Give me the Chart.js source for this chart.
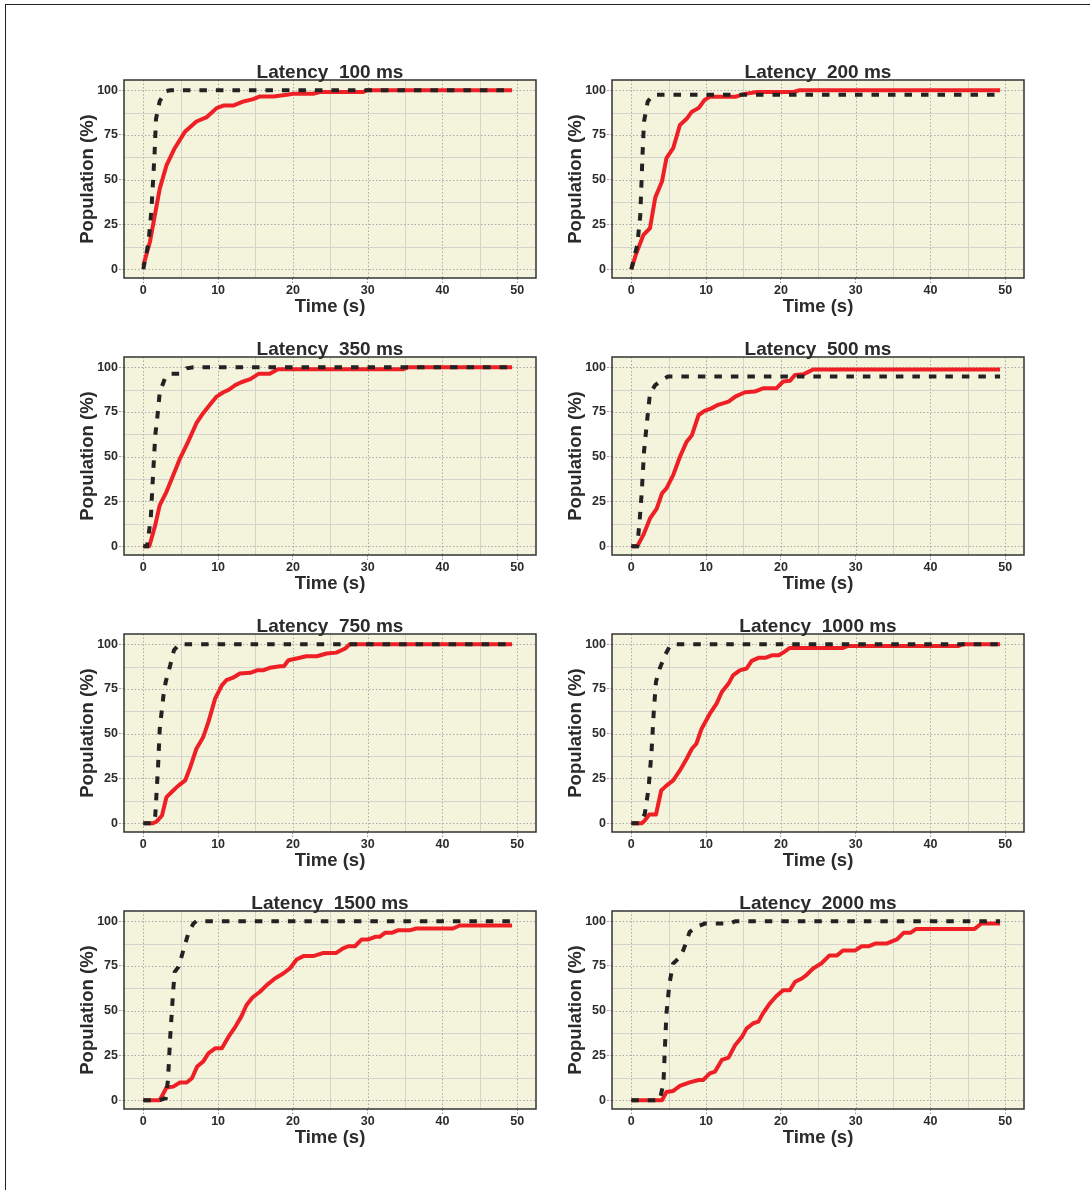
<!DOCTYPE html>
<html><head><meta charset="utf-8">
<script src="https://cdn.jsdelivr.net/npm/chart.js@4/dist/chart.umd.min.js"></script>
<style>
html,body{margin:0;padding:0;background:#fff;}
body{width:1090px;height:1190px;position:relative;overflow:hidden;}
#frame{position:absolute;left:5px;top:4px;width:1200px;height:1300px;border-top:1px solid #222;border-left:1px solid #222;}
canvas{position:absolute;}
</style></head><body><div id="frame"></div>
<script>
// ---- data ----
const latencies = [100, 200, 350, 500, 750, 1000, 1500, 2000];
const xTickValues = [0, 10, 20, 30, 40, 50];
const yTickValues = [0, 25, 50, 75, 100];
const xMinorValues = [5, 15, 25, 35, 45];
const yMinorValues = [12.5, 37.5, 62.5, 87.5];

const red100 = [[0,2],[0.9,15.5],[2.2,45],[3.1,58],[4.2,67.6],[5.6,77],[7.1,82.5],[8.5,85],[9.8,90],[10.7,91.4],[12,91.4],[13.4,93.7],[14.7,95],[15.6,96.5],[17.4,96.5],[19.2,97.4],[20,98],[22.7,98],[23.6,99],[29.4,99],[29.9,100],[49.3,100]];
const black100 = [[0,0],[0.7,15],[1.1,34],[1.5,64],[1.7,84],[2.2,94],[3.1,99.6],[3.6,100],[49.3,100]];

const red200 = [[0,0],[0.6,8],[1.6,19],[2.5,23],[3.2,40],[4.1,49],[4.7,62],[5.6,67.6],[6.5,80.6],[7.4,84],[8.1,88],[9,90],[9.8,94.6],[10.5,96.3],[13.9,96.3],[15,97.8],[16.8,99],[21.7,99],[22.5,100],[49.3,100]];
const black200 = [[0,0],[0.8,13.6],[1.2,30],[1.5,64],[1.7,82.5],[2.2,93.7],[2.9,97.4],[49.3,97.4]];

const red350 = [[0,0],[0.8,0],[1.6,11.8],[2.2,23],[3.1,30.4],[4,39.7],[4.9,49],[6,58.4],[7.1,68.7],[8,74.3],[8.9,79],[9.8,83.6],[10.7,86],[11.4,87.3],[12.3,90],[13.1,91.6],[14.3,93.3],[15.4,96.3],[16.9,96.3],[18,98.9],[34.8,98.9],[35.4,100],[49.3,100]];
const black350 = [[0,0],[0.5,0],[1,15.5],[1.3,39.7],[1.6,62],[1.9,73],[2.2,86],[2.9,93.8],[3.6,96.3],[4.9,96.3],[5.8,99.4],[6.7,100],[49.3,100]];

const red500 = [[0,0],[0.8,0],[1.6,6.2],[2.5,15.5],[3.4,21],[4.1,29.5],[4.7,32.3],[5.6,39.7],[6.5,50],[7.4,58.4],[8.1,62],[9,73.3],[9.8,75.6],[10.7,77],[11.6,79],[13,80.8],[13.9,83.6],[15.2,86],[16.5,86.4],[17.6,88.2],[19.4,88.2],[20.3,92],[21.2,92.4],[21.9,95.7],[23,96],[24.3,98.7],[49.3,98.7]];
const black500 = [[0,0],[0.8,0],[1.1,13.6],[1.4,30.4],[1.7,52.8],[2.1,69.6],[2.5,85.4],[3.2,90],[4.1,92.9],[4.9,94.8],[49.3,94.8]];

const red750 = [[0,0],[1.3,0],[1.8,1],[2.5,4.3],[3.1,14.6],[4,18.3],[4.7,21],[5.6,23.9],[6.2,30.4],[7.1,41.6],[8,48],[8.7,56.5],[9.6,69.6],[10.5,77],[11.1,79.9],[12,81.3],[12.9,83.6],[14.3,84],[15.2,85.4],[16,85.4],[16.9,86.8],[18.3,87.7],[18.8,87.7],[19.4,91],[20.5,92],[21.8,93.3],[23.2,93.3],[24.5,94.8],[25.8,95.3],[27,97.6],[27.6,100],[49.3,100]];
const black750 = [[0,0],[1.3,0],[1.6,4.3],[2,34],[2.2,52.8],[2.7,71.5],[3,79],[3.6,88.2],[4.1,96.6],[4.8,100],[49.3,100]];

const red1000 = [[0,0],[1.4,0],[1.8,1.5],[2.4,4.9],[3.3,4.9],[4,18.3],[4.7,21],[5.6,23.9],[6.5,29.5],[7.4,36],[8.1,41.6],[8.7,44.4],[9.4,52.8],[10.5,61.2],[11.4,66.8],[12.1,73.3],[13,78],[13.6,82.6],[14.5,85.4],[15.4,86.4],[16.1,90.7],[17,92.4],[17.9,92.4],[18.8,93.8],[19.7,93.8],[20.3,95.3],[21.2,97.9],[28.3,97.9],[29,99],[43.7,99],[44.4,100],[49.3,100]];
const black1000 = [[0,0],[1.2,0],[1.8,5.2],[2.3,19.2],[2.7,39.7],[3,62],[3.3,79],[3.8,86.4],[4.5,93.8],[5.2,99.4],[5.8,100],[49.3,100]];

const red1500 = [[0,0],[2.2,0],[2.7,3.9],[3.1,7.1],[4,7.6],[4.9,9.9],[5.8,9.9],[6.5,12.3],[7.2,18.8],[8,21.6],[8.7,26.2],[9.6,29],[10.5,29],[11.4,35.5],[12.3,41],[13.1,46.7],[13.8,53.2],[14.6,57.4],[15.6,60.6],[16.5,64.3],[17.6,68],[18.7,70.8],[19.6,73.6],[20.5,78.6],[21.4,80.5],[22.7,80.5],[24.1,82.3],[25.8,82.3],[26.7,84.8],[27.4,86],[28.3,86],[29.2,89.8],[30.1,89.8],[31,91.3],[31.6,91.3],[32.3,93.5],[33.2,93.5],[34.1,95],[35.7,95],[36.5,95.9],[41.4,95.9],[42.3,97.6],[49.3,97.6]];
const black1500 = [[0,0],[2.2,0],[3,1.1],[3.3,11.3],[3.6,35.5],[4,61.5],[4.2,71.7],[4.7,74.5],[5.1,80],[6,93],[6.7,98.7],[7.1,100],[49.3,100]];

const red2000 = [[0,0],[4.1,0],[4.7,4.6],[5.6,5.2],[6.5,8],[7.8,10],[9,11.3],[9.6,11.3],[10.5,15],[11.2,16],[12.1,22.5],[13,23.8],[13.9,30.9],[14.8,35.5],[15.4,40],[16.3,43],[17,43.9],[17.6,48.5],[18.5,54],[19.4,58.2],[20.3,61.5],[21.2,61.5],[21.9,66.2],[22.8,68],[23.4,69.9],[24.3,73.6],[25.4,76.4],[26.5,80.9],[27.5,80.9],[28.3,83.6],[29.9,83.6],[30.8,86],[31.7,86],[32.6,87.5],[34.1,87.5],[35.5,89.8],[36.4,93.5],[37.3,93.5],[38.1,95.7],[45.9,95.7],[46.8,98.7],[49.3,98.7]];
const black2000 = [[0,0],[3.8,0],[4.3,9.5],[4.5,30],[4.7,48.5],[5.1,65.2],[5.6,76.4],[6.3,79.2],[6.7,81],[7.2,86.6],[7.8,94],[8.7,96.8],[9.8,98.7],[13.2,98.7],[13.9,100],[49.3,100]];

const redSeries = [red100, red200, red350, red500, red750, red1000, red1500, red2000];
const blackSeries = [black100, black200, black350, black500, black750, black1000, black1500, black2000];

// ---- drawing ----
const FONT = "'Liberation Sans', Arial, Helvetica, sans-serif";
const TXT = '#2b2b2b';

const panelDecor = {
  id: 'panelDecor',
  beforeDatasetsDraw(chart) {
    const {ctx, chartArea: a, scales: {x, y}} = chart;
    ctx.save();
    ctx.fillStyle = '#f4f4dc';
    ctx.fillRect(a.left, a.top, a.right - a.left, a.bottom - a.top);
    ctx.lineWidth = 1;
    const vline = (v, dash, color) => {
      const p = Math.round(x.getPixelForValue(v)) + 0.5;
      ctx.setLineDash(dash); ctx.strokeStyle = color;
      ctx.beginPath(); ctx.moveTo(p, a.top); ctx.lineTo(p, a.bottom); ctx.stroke();
    };
    const hline = (v, dash, color) => {
      const p = Math.round(y.getPixelForValue(v)) + 0.5;
      ctx.setLineDash(dash); ctx.strokeStyle = color;
      ctx.beginPath(); ctx.moveTo(a.left, p); ctx.lineTo(a.right, p); ctx.stroke();
    };
    xMinorValues.forEach(v => vline(v, [], '#d4d4cc'));
    yMinorValues.forEach(v => hline(v, [], '#d4d4cc'));
    xTickValues.forEach(v => vline(v, [1.5, 2], '#ababab'));
    yTickValues.forEach(v => hline(v, [1.5, 2], '#ababab'));
    ctx.restore();
  },
  afterDatasetsDraw(chart) {
    const {ctx, chartArea: a} = chart;
    ctx.save();
    ctx.strokeStyle = '#333';
    ctx.lineWidth = 1.5;
    ctx.setLineDash([]);
    ctx.strokeRect(a.left, a.top, a.right - a.left, a.bottom - a.top);
    // panel title centred over the plot area
    ctx.fillStyle = TXT;
    ctx.font = "bold 19px " + FONT;
    ctx.textAlign = 'center';
    ctx.textBaseline = 'middle';
    ctx.fillText(chart.options.plugins.panelDecor.title, (a.left + a.right) / 2, 18);
    ctx.restore();
  }
};

function makeChart(i) {
  const col = i % 2, row = Math.floor(i / 2);
  const cv = document.createElement('canvas');
  cv.width = 490; cv.height = 270;
  cv.style.width = '490px'; cv.style.height = '270px';
  cv.style.left = (60 + col * 488) + 'px';
  cv.style.top = (55 + row * 277) + 'px';
  document.body.appendChild(cv);
  const toPts = arr => arr.map(p => ({x: p[0], y: p[1]}));
  new Chart(cv, {
    type: 'line',
    data: {
      datasets: [
        {data: toPts(blackSeries[i]), borderColor: '#222222', borderWidth: 4, borderDash: [7.5, 9],
         pointRadius: 0, tension: 0, order: 0, borderCapStyle: 'butt', borderJoinStyle: 'miter'},
        {data: toPts(redSeries[i]), borderColor: '#ee2026', borderWidth: 4,
         pointRadius: 0, tension: 0, order: 1, borderJoinStyle: 'round'}
      ]
    },
    options: {
      responsive: false,
      animation: false,
      events: [],
      layout: {padding: {left: 0, right: 14, top: 25, bottom: 0}},
      plugins: {
        legend: {display: false},
        tooltip: {enabled: false},
        title: {display: false},
        panelDecor: {title: 'Latency  ' + latencies[i] + ' ms'}
      },
      scales: {
        x: {
          type: 'linear', min: -2.58, max: 52.5,
          afterBuildTicks: s => { s.ticks = xTickValues.map(v => ({value: v})); },
          afterFit: s => { s.height = 47; },
          grid: {drawOnChartArea: false, drawTicks: true, tickLength: 5, tickColor: '#9a9a9a', tickBorderDash: [2, 1.5], tickWidth: 1},
          border: {display: false},
          ticks: {color: TXT, font: {family: FONT, size: 12.5, weight: 'bold'}, padding: 0, maxRotation: 0, autoSkip: false},
          title: {display: true, text: 'Time (s)', color: TXT,
                  font: {family: FONT, size: 18.5, weight: 'bold', lineHeight: 1.2}, padding: {top: 0, bottom: 7}}
        },
        y: {
          type: 'linear', min: -4.9, max: 105.7,
          afterBuildTicks: s => { s.ticks = yTickValues.map(v => ({value: v})); },
          afterFit: s => { s.width = 64; },
          grid: {drawOnChartArea: false, drawTicks: true, tickLength: 5, tickColor: '#9a9a9a', tickBorderDash: [2, 1.5], tickWidth: 1},
          border: {display: false},
          ticks: {color: TXT, font: {family: FONT, size: 12.5, weight: 'bold'}, padding: 1, autoSkip: false},
          title: {display: true, text: 'Population (%)', color: TXT,
                  font: {family: FONT, size: 18.5, weight: 'bold', lineHeight: 1.2}, padding: {top: 17, bottom: 0}}
        }
      }
    },
    plugins: [panelDecor]
  });
}
for (let i = 0; i < latencies.length; i++) makeChart(i);
</script></body></html>
